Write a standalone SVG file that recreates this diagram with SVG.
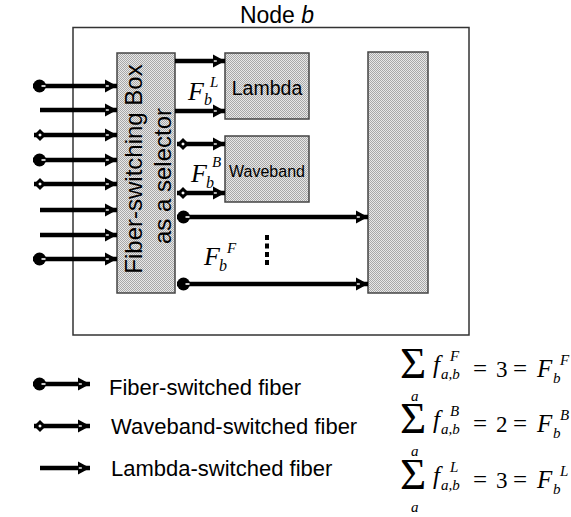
<svg xmlns="http://www.w3.org/2000/svg" width="571" height="517" viewBox="0 0 571 517">
<defs>
<pattern id="dots" width="2" height="2" patternUnits="userSpaceOnUse">
<rect width="2" height="2" fill="#e8e8e8"/>
<rect width="1" height="1" fill="#a8a8a8"/>
<rect x="1" y="1" width="1" height="1" fill="#a8a8a8"/>
</pattern>
<marker id="ah" markerUnits="userSpaceOnUse" markerWidth="16" markerHeight="16" refX="12" refY="6.5" orient="auto" overflow="visible">
<path d="M0,0 L12,6.5 L0,13 Z" fill="#000"/>
<rect x="0.8" y="5.8" width="3" height="1.4" fill="#fff"/>
</marker>
<marker id="circ" markerUnits="userSpaceOnUse" markerWidth="16" markerHeight="16" refX="0" refY="6.5" orient="auto" overflow="visible">
<circle cx="6.5" cy="6.5" r="6.5" fill="#000"/>
<rect x="8.5" y="5.7" width="4" height="1.6" fill="#fff"/>
</marker>
<marker id="diam" markerUnits="userSpaceOnUse" markerWidth="16" markerHeight="16" refX="0" refY="6.5" orient="auto" overflow="visible">
<path d="M0,6.5 L6,0.5 L12,6.5 L6,12.5 Z" fill="#000"/>
<path d="M4.2,6.5 L6,4.8 L7.8,6.5 L6,8.2 Z" fill="#fff"/>
</marker>
</defs>
<style>
.box{fill:url(#dots);stroke:#444;stroke-width:1.5}
.frame{fill:none;stroke:#333;stroke-width:1.5}
.ln{stroke:#000;stroke-width:4.5;fill:none;marker-end:url(#ah)}
.fib{marker-start:url(#circ)}
.wav{marker-start:url(#diam)}
.sans{font-family:"Liberation Sans",Arial,sans-serif;fill:#000}
.ser{font-family:"Liberation Serif","Times New Roman",serif;fill:#000}
.it{font-style:italic}
</style>

<g id="node-b">
<rect class="frame" x="73" y="27.5" width="396" height="307.5"/>
<text class="sans" x="277" y="23" font-size="23" text-anchor="middle">Node <tspan font-style="italic">b</tspan></text>
</g>

<g id="fiber-switching-box">
<rect class="box" x="117" y="53" width="58" height="240"/>
<text class="sans" font-size="24" text-anchor="middle" transform="translate(142,169) rotate(-90)">Fiber-switching Box</text>
<text class="sans" font-size="24" text-anchor="middle" transform="translate(171,176) rotate(-90)">as a selector</text>
</g>

<g id="lambda">
<rect class="box" x="225" y="53" width="84" height="66"/>
<text class="sans" x="267" y="95" font-size="19.5" text-anchor="middle">Lambda</text>
</g>

<g id="waveband">
<rect class="box" x="225" y="136" width="84" height="66"/>
<text class="sans" x="267" y="177" font-size="16" text-anchor="middle">Waveband</text>
</g>

<g id="fiber-output">
<rect class="box" x="368" y="52" width="60" height="241"/>
</g>

<g id="connectors">
<line class="ln fib" x1="33" y1="86" x2="117" y2="86"/>
<line class="ln" x1="40" y1="110" x2="117" y2="110"/>
<line class="ln wav" x1="34" y1="135" x2="117" y2="135"/>
<line class="ln fib" x1="33" y1="160" x2="117" y2="160"/>
<line class="ln wav" x1="34" y1="184" x2="117" y2="184"/>
<line class="ln" x1="40" y1="210" x2="117" y2="210"/>
<line class="ln" x1="40" y1="235" x2="117" y2="235"/>
<line class="ln fib" x1="33" y1="259" x2="117" y2="259"/>

<line class="ln" x1="175" y1="61" x2="225" y2="61"/>
<line class="ln" x1="175" y1="111" x2="225" y2="111"/>
<line class="ln wav" x1="177" y1="144" x2="225" y2="144"/>
<line class="ln wav" x1="177" y1="193" x2="225" y2="193"/>
<line class="ln fib" x1="177" y1="217" x2="368" y2="217"/>
<line class="ln fib" x1="177" y1="284" x2="368" y2="284"/>
</g>

<g id="labels">
<text class="ser it" x="188" y="100" font-size="26">F</text>
<text class="ser it" x="204" y="105" font-size="16">b</text>
<text class="ser it" x="210" y="87" font-size="15">L</text>

<text class="ser it" x="191" y="182" font-size="26">F</text>
<text class="ser it" x="206" y="188" font-size="16">b</text>
<text class="ser it" x="212" y="167" font-size="15">B</text>

<text class="ser it" x="204" y="265" font-size="26">F</text>
<text class="ser it" x="219" y="271" font-size="16">b</text>
<text class="ser it" x="227" y="253" font-size="15">F</text>

<g fill="#000">
<rect x="265" y="235" width="4" height="5"/>
<rect x="265" y="243.5" width="4" height="5"/>
<rect x="265" y="252" width="4" height="5"/>
<rect x="265" y="260" width="4" height="5"/>
</g>
</g>

<g id="legend">
<line class="ln fib" x1="33" y1="384" x2="90" y2="384"/>
<line class="ln wav" x1="34" y1="426" x2="90" y2="426"/>
<line class="ln" x1="40" y1="468" x2="90" y2="468"/>
<text class="sans" x="109" y="395" font-size="22">Fiber-switched fiber</text>
<text class="sans" x="111" y="434" font-size="22">Waveband-switched fiber</text>
<text class="sans" x="111" y="476" font-size="22">Lambda-switched fiber</text>
</g>

<g id="equations" class="ser">
<g>
<text x="400" y="378" font-size="45">Σ</text>
<text class="it" x="411" y="401" font-size="15">a</text>
<text class="it" x="433" y="373" font-size="25">f</text>
<text class="it" x="450" y="361" font-size="15">F</text>
<text class="it" x="441" y="379" font-size="15">a,b</text>
<text x="473" y="377" font-size="25">=</text>
<text x="496" y="377" font-size="23">3</text>
<text x="513" y="377" font-size="25">=</text>
<text class="it" x="537" y="377" font-size="25">F</text>
<text class="it" x="553" y="383" font-size="15">b</text>
<text class="it" x="560" y="365" font-size="15">F</text>
</g>
<g>
<text x="400" y="433" font-size="45">Σ</text>
<text class="it" x="411" y="456" font-size="15">a</text>
<text class="it" x="433" y="428" font-size="25">f</text>
<text class="it" x="450" y="416" font-size="15">B</text>
<text class="it" x="441" y="434" font-size="15">a,b</text>
<text x="473" y="432" font-size="25">=</text>
<text x="496" y="432" font-size="23">2</text>
<text x="513" y="432" font-size="25">=</text>
<text class="it" x="537" y="432" font-size="25">F</text>
<text class="it" x="553" y="438" font-size="15">b</text>
<text class="it" x="560" y="420" font-size="15">B</text>
</g>
<g>
<text x="400" y="489" font-size="45">Σ</text>
<text class="it" x="411" y="512" font-size="15">a</text>
<text class="it" x="433" y="484" font-size="25">f</text>
<text class="it" x="450" y="472" font-size="15">L</text>
<text class="it" x="441" y="490" font-size="15">a,b</text>
<text x="473" y="488" font-size="25">=</text>
<text x="496" y="488" font-size="23">3</text>
<text x="513" y="488" font-size="25">=</text>
<text class="it" x="537" y="488" font-size="25">F</text>
<text class="it" x="553" y="494" font-size="15">b</text>
<text class="it" x="560" y="476" font-size="15">L</text>
</g>
</g>
</svg>
